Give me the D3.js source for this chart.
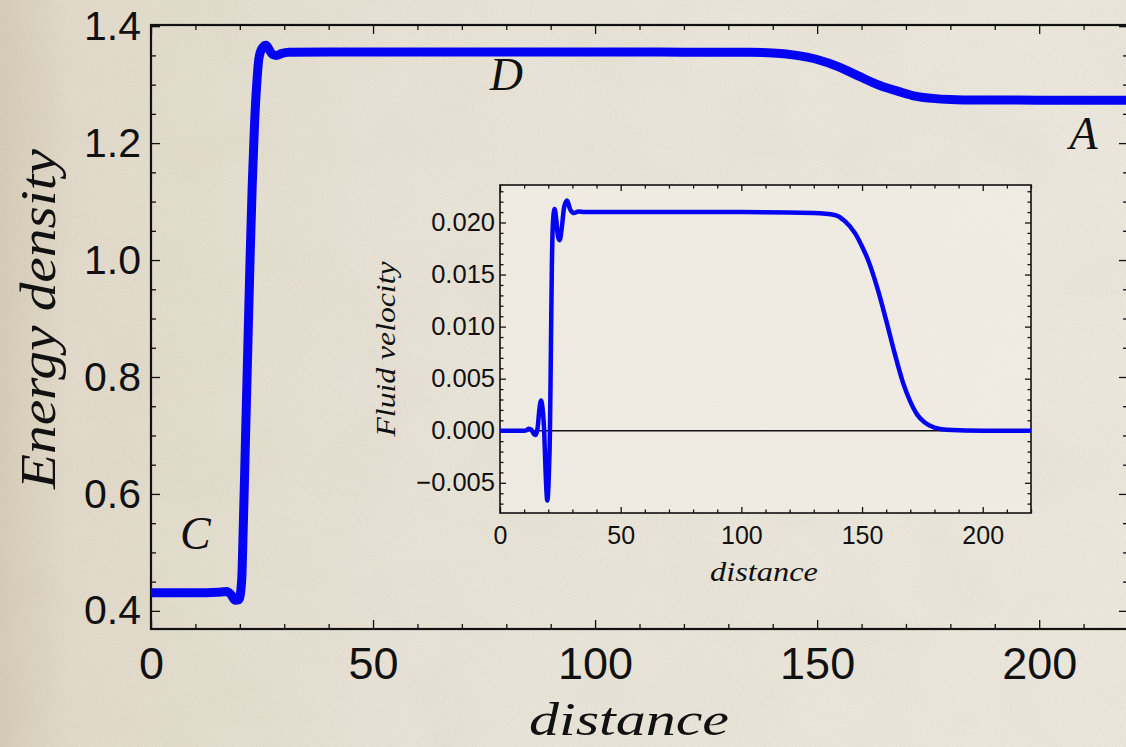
<!DOCTYPE html>
<html>
<head>
<meta charset="utf-8">
<script src="https://cdnjs.cloudflare.com/ajax/libs/d3/7.8.5/d3.min.js"></script>
<style>
  body { margin: 0; background: #e6e0d2; overflow: hidden; }
  svg { display: block; }
  .tick text { fill: #111; }
</style>
</head>
<body>
<script>
// main curve: energy density vs distance
const mainDist = [0, 10, 15, 17, 18, 19, 19.8, 20.4, 20.8, 21.3, 21.8, 22.3, 22.8, 23.3, 23.8, 24.3, 25.0, 25.9, 26.6, 27.3, 28.3, 29.3, 31, 40, 80, 120, 135, 140, 145, 150, 155, 159.5, 164, 168.5, 172, 176, 180, 186, 200, 220];
const mainEnergy = [0.431, 0.431, 0.432, 0.433, 0.428, 0.418, 0.419, 0.45, 0.55, 0.70, 0.85, 1.00, 1.13, 1.23, 1.30, 1.345, 1.362, 1.3675, 1.360, 1.352, 1.350, 1.353, 1.3555, 1.3558, 1.3558, 1.3556, 1.3552, 1.3542, 1.3505, 1.343, 1.330, 1.314, 1.299, 1.288, 1.2805, 1.2765, 1.2745, 1.2736, 1.2735, 1.2735];

// inset curve: fluid velocity vs distance
const insetDist = [0, 10, 11, 12, 13, 14, 14.8, 15.6, 16.3, 17, 17.6, 18.3, 18.9, 19.6, 20.2, 20.7, 21.1, 21.5, 22.0, 22.6, 23.3, 24.0, 24.7, 25.5, 26.6, 27.8, 29.0, 30.6, 32.5, 35, 60, 100, 130, 139, 143, 147, 150, 152.5, 156.6, 160, 163.5, 167, 170, 173, 176, 180, 185, 200, 220];
const insetVel = [0, 0, 0.00005, 0.0002, 0.0001, -0.0003, -0.0004, 0.0003, 0.0020, 0.0029, 0.0022, 0.0000, -0.0040, -0.0067, -0.0045, 0.0000, 0.0080, 0.0160, 0.0202, 0.0213, 0.0203, 0.0187, 0.0183, 0.0193, 0.0215, 0.0221, 0.0213, 0.0209, 0.02105, 0.0210, 0.0210, 0.0210, 0.0209, 0.0207, 0.0201, 0.0190, 0.0177, 0.0164, 0.0135, 0.0106, 0.00745, 0.0046, 0.0028, 0.0015, 0.0008, 0.0003, 0.0001, 0, 0];

const mainXTicks = [0, 50, 100, 150, 200];
const mainYTicks = [0.4, 0.6, 0.8, 1.0, 1.2, 1.4];
const insetXTicks = [0, 50, 100, 150, 200];
const insetYTicks = [-0.005, 0, 0.005, 0.010, 0.015, 0.020];
const regionLabels = [
  { name: "C", d: 10, e: 0.505 },
  { name: "D", d: 80, e: 1.29 },
  { name: "A", d: 210, e: 1.19 }
];

const W = 1126, H = 747;
const BLUE = "#0404f2";
const sans = "'Liberation Sans', Arial, sans-serif";
const serif = "'Liberation Serif', 'DejaVu Serif', serif";

const svg = d3.select("body").append("svg")
  .attr("width", W)
  .attr("height", H);

// parchment background
const defs = svg.append("defs");
const grad = defs.append("linearGradient").attr("id", "paper");
grad.append("stop").attr("offset", "0%").attr("stop-color", "#d6ccb8");
grad.append("stop").attr("offset", "6%").attr("stop-color", "#e2dbcb");
grad.append("stop").attr("offset", "40%").attr("stop-color", "#e9e4d8");
grad.append("stop").attr("offset", "100%").attr("stop-color", "#ece8de");

const grain = defs.append("filter").attr("id", "grain")
  .attr("x", 0).attr("y", 0).attr("width", "100%").attr("height", "100%");
grain.append("feTurbulence")
  .attr("type", "fractalNoise")
  .attr("baseFrequency", 0.8)
  .attr("numOctaves", 2)
  .attr("seed", 3);
grain.append("feColorMatrix")
  .attr("type", "matrix")
  .attr("values", "0 0 0 0 0.40  0 0 0 0 0.36  0 0 0 0 0.28  0 0 0 -1.2 0.75");

const mottle = defs.append("filter").attr("id", "mottle")
  .attr("x", 0).attr("y", 0).attr("width", "100%").attr("height", "100%");
mottle.append("feTurbulence")
  .attr("type", "fractalNoise")
  .attr("baseFrequency", 0.012)
  .attr("numOctaves", 3)
  .attr("seed", 11);
mottle.append("feColorMatrix")
  .attr("type", "matrix")
  .attr("values", "0 0 0 0 0.55  0 0 0 0 0.48  0 0 0 0 0.36  0 0 0 -1.0 0.6");

svg.append("rect").attr("width", W).attr("height", H).attr("fill", "url(#paper)");
svg.append("rect").attr("width", W).attr("height", H).attr("filter", "url(#mottle)").attr("opacity", 0.15);
svg.append("rect").attr("width", W).attr("height", H).attr("filter", "url(#grain)").attr("opacity", 0.22);

// main plot
const x = d3.scaleLinear().domain([0, 220]).range([151, 1128]);
const y = d3.scaleLinear().domain([0.369, 1.402]).range([629, 25]);

const xMinor = d3.range(0, 221, 10).filter(v => v % 50 !== 0);
const yMinor = d3.range(8, 28).map(i => +(i * 0.05).toFixed(2)).filter(v => Math.round(v * 100) % 20 !== 0);

function styleAxis(g) {
  g.select(".domain").remove();
  g.selectAll(".tick line").attr("stroke", "#111").attr("stroke-width", 1.3);
}

svg.append("g")
  .attr("transform", "translate(0,629)")
  .call(d3.axisBottom(x).tickValues(mainXTicks).tickSize(-9).tickPadding(18).tickFormat(d3.format("d")))
  .call(styleAxis)
  .call(g => g.selectAll("text").style("font-family", sans).style("font-size", "45px"));
svg.append("g")
  .attr("transform", "translate(0,629)")
  .call(d3.axisBottom(x).tickValues(xMinor).tickSize(-5).tickFormat(""))
  .call(styleAxis);
svg.append("g")
  .attr("transform", "translate(0,25)")
  .call(d3.axisTop(x).tickValues(mainXTicks).tickSize(-9).tickFormat(""))
  .call(styleAxis);
svg.append("g")
  .attr("transform", "translate(0,25)")
  .call(d3.axisTop(x).tickValues(xMinor).tickSize(-5).tickFormat(""))
  .call(styleAxis);

svg.append("g")
  .attr("transform", "translate(151,0)")
  .call(d3.axisLeft(y).tickValues(mainYTicks).tickSize(-9).tickPadding(10).tickFormat(d3.format(".1f")))
  .call(styleAxis)
  .call(g => g.selectAll("text").style("font-family", sans).style("font-size", "41px"));
svg.append("g")
  .attr("transform", "translate(151,0)")
  .call(d3.axisLeft(y).tickValues(yMinor).tickSize(-5).tickFormat(""))
  .call(styleAxis);
svg.append("g")
  .attr("transform", "translate(1128,0)")
  .call(d3.axisRight(y).tickValues(mainYTicks).tickSize(-9).tickFormat(""))
  .call(styleAxis);
svg.append("g")
  .attr("transform", "translate(1128,0)")
  .call(d3.axisRight(y).tickValues(yMinor).tickSize(-5).tickFormat(""))
  .call(styleAxis);

svg.append("rect")
  .attr("x", 151).attr("y", 25)
  .attr("width", 1128 - 151).attr("height", 629 - 25)
  .attr("fill", "none")
  .attr("stroke", "#111")
  .attr("stroke-width", 2.2);

const mainPts = mainDist.map((d, i) => [d, mainEnergy[i]]);
svg.append("path")
  .datum(mainPts)
  .attr("fill", "none")
  .attr("stroke", BLUE)
  .attr("stroke-width", 9)
  .attr("stroke-linejoin", "round")
  .attr("d", d3.line().x(p => x(p[0])).y(p => y(p[1])).curve(d3.curveMonotoneX));

svg.selectAll(".region")
  .data(regionLabels)
  .enter()
  .append("text")
  .attr("class", "region")
  .attr("x", r => x(r.d))
  .attr("y", r => y(r.e))
  .attr("text-anchor", "middle")
  .style("font-family", serif)
  .style("font-style", "italic")
  .style("font-size", "46px")
  .attr("fill", "#111")
  .text(r => r.name);

svg.append("text")
  .attr("x", 629).attr("y", 735)
  .attr("text-anchor", "middle")
  .attr("textLength", 200).attr("lengthAdjust", "spacingAndGlyphs")
  .style("font-family", serif).style("font-style", "italic").style("font-size", "46px")
  .attr("fill", "#111")
  .text("distance");

svg.append("text")
  .attr("transform", "translate(55,319) rotate(-90)")
  .attr("text-anchor", "middle")
  .attr("textLength", 340).attr("lengthAdjust", "spacingAndGlyphs")
  .style("font-family", serif).style("font-style", "italic").style("font-size", "50px")
  .attr("fill", "#111")
  .text("Energy density");

// inset plot
const xi = d3.scaleLinear().domain([0, 220]).range([500, 1031]);
const yi = d3.scaleLinear().domain([-0.0079, 0.0236]).range([513, 185]);

svg.append("rect")
  .attr("x", 500).attr("y", 185)
  .attr("width", 531).attr("height", 328)
  .attr("fill", "#f1eee7")
  .attr("opacity", 0.7);

const xiMinor = d3.range(0, 221, 10).filter(v => v % 50 !== 0);
const yiMinor = d3.range(-7, 24).map(i => +(i * 0.001).toFixed(3)).filter(v => Math.round(v * 1000) % 5 !== 0);

svg.append("g")
  .attr("transform", "translate(0,513)")
  .call(d3.axisBottom(xi).tickValues(insetXTicks).tickSize(-6).tickPadding(13).tickFormat(d3.format("d")))
  .call(styleAxis)
  .call(g => g.selectAll("text").style("font-family", sans).style("font-size", "25px"));
svg.append("g")
  .attr("transform", "translate(0,513)")
  .call(d3.axisBottom(xi).tickValues(xiMinor).tickSize(-3.5).tickFormat(""))
  .call(styleAxis);
svg.append("g")
  .attr("transform", "translate(0,185)")
  .call(d3.axisTop(xi).tickValues(insetXTicks).tickSize(-6).tickFormat(""))
  .call(styleAxis);
svg.append("g")
  .attr("transform", "translate(0,185)")
  .call(d3.axisTop(xi).tickValues(xiMinor).tickSize(-3.5).tickFormat(""))
  .call(styleAxis);
svg.append("g")
  .attr("transform", "translate(500,0)")
  .call(d3.axisLeft(yi).tickValues(insetYTicks).tickSize(-6).tickPadding(5).tickFormat(d3.format(".3f")))
  .call(styleAxis)
  .call(g => g.selectAll("text").style("font-family", sans).style("font-size", "25.5px"));
svg.append("g")
  .attr("transform", "translate(500,0)")
  .call(d3.axisLeft(yi).tickValues(yiMinor).tickSize(-3.5).tickFormat(""))
  .call(styleAxis);
svg.append("g")
  .attr("transform", "translate(1031,0)")
  .call(d3.axisRight(yi).tickValues(insetYTicks).tickSize(-6).tickFormat(""))
  .call(styleAxis);
svg.append("g")
  .attr("transform", "translate(1031,0)")
  .call(d3.axisRight(yi).tickValues(yiMinor).tickSize(-3.5).tickFormat(""))
  .call(styleAxis);

svg.append("rect")
  .attr("x", 500).attr("y", 185)
  .attr("width", 531).attr("height", 328)
  .attr("fill", "none")
  .attr("stroke", "#111")
  .attr("stroke-width", 1.6);

svg.append("line")
  .attr("x1", xi(0)).attr("x2", xi(220))
  .attr("y1", yi(0)).attr("y2", yi(0))
  .attr("stroke", "#111")
  .attr("stroke-width", 1.6);

const insetPts = insetDist.map((d, i) => [d, insetVel[i]]);
svg.append("path")
  .datum(insetPts)
  .attr("fill", "none")
  .attr("stroke", BLUE)
  .attr("stroke-width", 4.5)
  .attr("stroke-linejoin", "round")
  .attr("d", d3.line().x(p => xi(p[0])).y(p => yi(p[1])).curve(d3.curveMonotoneX));

svg.append("text")
  .attr("x", 764).attr("y", 581)
  .attr("text-anchor", "middle")
  .attr("textLength", 108).attr("lengthAdjust", "spacingAndGlyphs")
  .style("font-family", serif).style("font-style", "italic").style("font-size", "27px")
  .attr("fill", "#111")
  .text("distance");

svg.append("text")
  .attr("transform", "translate(395,349) rotate(-90)")
  .attr("text-anchor", "middle")
  .attr("textLength", 175).attr("lengthAdjust", "spacingAndGlyphs")
  .style("font-family", serif).style("font-style", "italic").style("font-size", "27px")
  .attr("fill", "#111")
  .text("Fluid velocity");
</script>
</body>
</html>
